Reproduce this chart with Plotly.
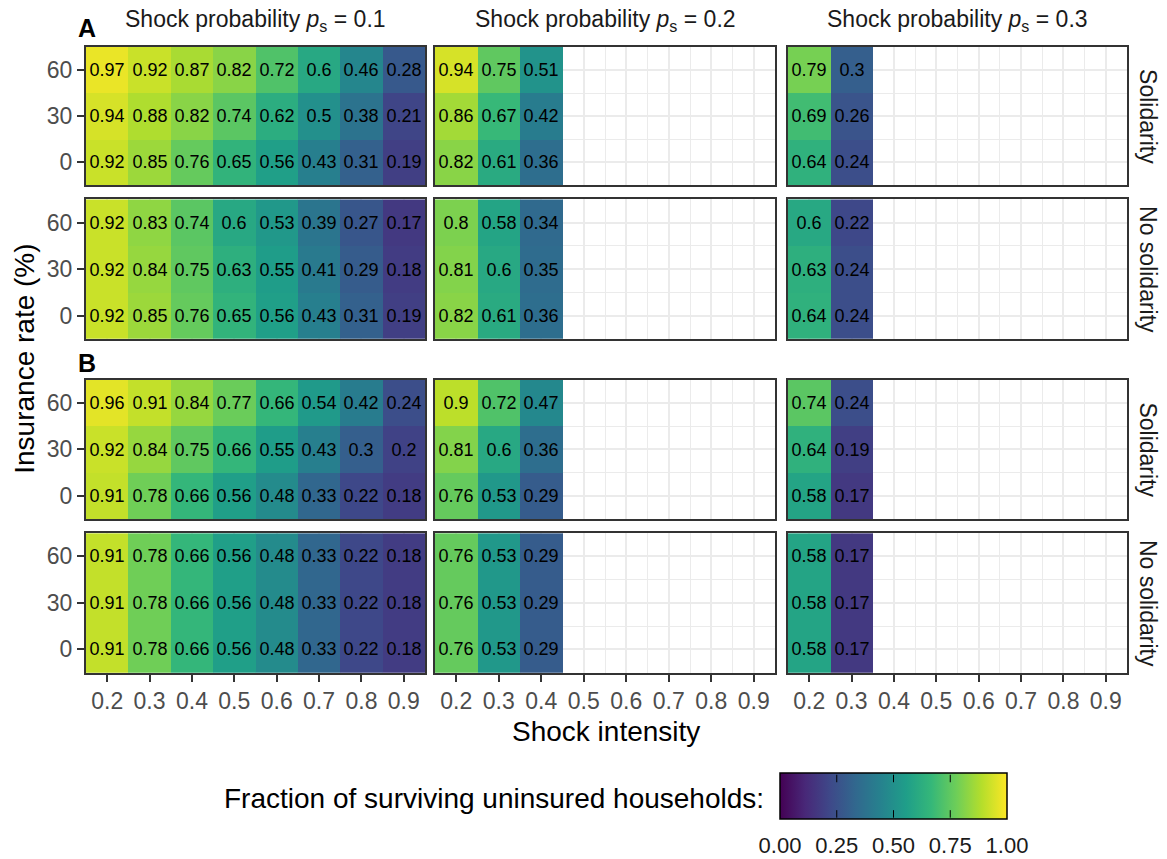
import plotly.graph_objects as go

# ---------------- data ----------------
SHOCK_INTENSITY = [0.2, 0.3, 0.4, 0.5, 0.6, 0.7, 0.8, 0.9]
INSURANCE_RATE = [0, 30, 60]
SHOCK_PROB = [0.1, 0.2, 0.3]
ROW_LABELS = ["Solidarity", "No solidarity", "Solidarity", "No solidarity"]
PANEL_LETTERS = ["A", "B"]
X_TICKS = [0.2, 0.3, 0.4, 0.5, 0.6, 0.7, 0.8, 0.9]
X_TICKTEXT = ["0.2", "0.3", "0.4", "0.5", "0.6", "0.7", "0.8", "0.9"]
Y_TICKS = [0, 30, 60]
Y_TICKTEXT = ["0", "30", "60"]
CB_TICKS = [0, 0.25, 0.5, 0.75, 1.0]
CB_TICKTEXT = ["0.00", "0.25", "0.50", "0.75", "1.00"]

# each list: rows for insurance rate 0, 30, 60
A_SOL_P1 = [[0.92, 0.85, 0.76, 0.65, 0.56, 0.43, 0.31, 0.19],
            [0.94, 0.88, 0.82, 0.74, 0.62, 0.5, 0.38, 0.21],
            [0.97, 0.92, 0.87, 0.82, 0.72, 0.6, 0.46, 0.28]]
A_SOL_P2 = [[0.82, 0.61, 0.36], [0.86, 0.67, 0.42], [0.94, 0.75, 0.51]]
A_SOL_P3 = [[0.64, 0.24], [0.69, 0.26], [0.79, 0.3]]

A_NOS_P1 = [[0.92, 0.85, 0.76, 0.65, 0.56, 0.43, 0.31, 0.19],
            [0.92, 0.84, 0.75, 0.63, 0.55, 0.41, 0.29, 0.18],
            [0.92, 0.83, 0.74, 0.6, 0.53, 0.39, 0.27, 0.17]]
A_NOS_P2 = [[0.82, 0.61, 0.36], [0.81, 0.6, 0.35], [0.8, 0.58, 0.34]]
A_NOS_P3 = [[0.64, 0.24], [0.63, 0.24], [0.6, 0.22]]

B_SOL_P1 = [[0.91, 0.78, 0.66, 0.56, 0.48, 0.33, 0.22, 0.18],
            [0.92, 0.84, 0.75, 0.66, 0.55, 0.43, 0.3, 0.2],
            [0.96, 0.91, 0.84, 0.77, 0.66, 0.54, 0.42, 0.24]]
B_SOL_P2 = [[0.76, 0.53, 0.29], [0.81, 0.6, 0.36], [0.9, 0.72, 0.47]]
B_SOL_P3 = [[0.58, 0.17], [0.64, 0.19], [0.74, 0.24]]

B_NOS_P1 = [[0.91, 0.78, 0.66, 0.56, 0.48, 0.33, 0.22, 0.18],
            [0.91, 0.78, 0.66, 0.56, 0.48, 0.33, 0.22, 0.18],
            [0.91, 0.78, 0.66, 0.56, 0.48, 0.33, 0.22, 0.18]]
B_NOS_P2 = [[0.76, 0.53, 0.29], [0.76, 0.53, 0.29], [0.76, 0.53, 0.29]]
B_NOS_P3 = [[0.58, 0.17], [0.58, 0.17], [0.58, 0.17]]

PANELS = [[A_SOL_P1, A_SOL_P2, A_SOL_P3],
          [A_NOS_P1, A_NOS_P2, A_NOS_P3],
          [B_SOL_P1, B_SOL_P2, B_SOL_P3],
          [B_NOS_P1, B_NOS_P2, B_NOS_P3]]

# ---------------- layout geometry (pixels) ----------------
W, H = 1167, 859
COLS_PX = [(86, 425), (435, 775), (788, 1127)]
ROWS_PX = [(47, 186), (200, 340), (381, 521), (535, 675)]
CB_LEFT, CB_LEN, CB_TOP, CB_THICK = 780, 227, 776, 46
FONT = "Liberation Sans, Arial, Helvetica, sans-serif"


def fx(p):
    return p / W


def fy(p):
    return 1 - p / H


def fmt(v):
    s = f"{v:.2f}".rstrip("0").rstrip(".")
    return s


fig = go.Figure()
layout = dict(
    width=W, height=H,
    margin=dict(l=0, r=0, t=0, b=0),
    paper_bgcolor="white", plot_bgcolor="white",
    font=dict(family=FONT, color="#1a1a1a"),
    showlegend=False,
)

for r in range(4):
    for c in range(3):
        idx = r * 3 + c + 1
        z = PANELS[r][c]
        n = len(z[0])
        xs = SHOCK_INTENSITY[:n]
        txt = [[fmt(v) for v in row] for row in z]
        xa = "x" if idx == 1 else f"x{idx}"
        ya = "y" if idx == 1 else f"y{idx}"
        tr = go.Heatmap(
            x=xs, y=INSURANCE_RATE, z=z, text=txt,
            texttemplate="%{text}",
            textfont=dict(size=18, color="black", family=FONT),
            colorscale="Viridis", zmin=0, zmax=1,
            xaxis=xa, yaxis=ya, hoverinfo="skip",
            showscale=(idx == 1),
        )
        if idx == 1:
            tr.colorbar = dict(
                orientation="h",
                lenmode="pixels", len=CB_LEN,
                thicknessmode="pixels", thickness=CB_THICK,
                x=fx(CB_LEFT + CB_LEN / 2), xanchor="center",
                y=fy(CB_TOP), yanchor="top",
                xpad=0, ypad=0,
                outlinecolor="black", outlinewidth=1.5,
                tickvals=CB_TICKS, ticktext=CB_TICKTEXT,
                ticks="outside", ticklen=7, tickcolor="rgba(0,0,0,0)",
                tickfont=dict(size=22, color="#1a1a1a", family=FONT),
            )
        fig.add_trace(tr)

        xkey = "xaxis" if idx == 1 else f"xaxis{idx}"
        ykey = "yaxis" if idx == 1 else f"yaxis{idx}"
        bottom = (r == 3)
        left = (c == 0)
        layout[xkey] = dict(
            domain=[fx(COLS_PX[c][0]), fx(COLS_PX[c][1])],
            anchor=ya, range=[0.15, 0.95],
            tickmode="array", tickvals=X_TICKS, ticktext=X_TICKTEXT,
            showticklabels=bottom,
            ticks="outside" if bottom else "", ticklen=7, tickwidth=1.5, tickcolor="#333333",
            tickfont=dict(size=23, color="#4d4d4d", family=FONT),
            showgrid=True, gridcolor="#ebebeb", gridwidth=2,
            minor=dict(tickmode="array", tickvals=[0.25, 0.35, 0.45, 0.55, 0.65, 0.75, 0.85],
                       showgrid=True, gridcolor="#ebebeb", gridwidth=1, ticks=""),
            showline=True, linecolor="#333333", linewidth=2, mirror=True,
            zeroline=False, fixedrange=True,
        )
        layout[ykey] = dict(
            domain=[fy(ROWS_PX[r][1]), fy(ROWS_PX[r][0])],
            anchor=xa, range=[-15, 75],
            tickmode="array", tickvals=Y_TICKS, ticktext=Y_TICKTEXT,
            showticklabels=left,
            ticks="outside" if left else "", ticklen=7, tickwidth=1.5, tickcolor="#333333",
            tickfont=dict(size=23, color="#4d4d4d", family=FONT),
            showgrid=True, gridcolor="#ebebeb", gridwidth=2,
            minor=dict(tickmode="array", tickvals=[15, 45],
                       showgrid=True, gridcolor="#ebebeb", gridwidth=1, ticks=""),
            showline=True, linecolor="#333333", linewidth=2, mirror=True,
            zeroline=False, fixedrange=True,
        )

ann = []
# inner tick marks of the colour bar (top and bottom edge, like ggplot),
# drawn as arrow-only annotations so they sit above the colour bar
for t in CB_TICKS[1:-1]:
    xp = fx(CB_LEFT + t * CB_LEN)
    for yp, off in [(CB_TOP + 9, -9), (CB_TOP + CB_THICK - 9, 9)]:
        ann.append(dict(text="", x=xp, y=fy(yp), xref="paper", yref="paper",
                        showarrow=True, arrowhead=0, arrowwidth=1, arrowcolor="black",
                        ax=0, ay=off, standoff=0, startstandoff=0))
# column titles
for c, p in enumerate(SHOCK_PROB):
    ann.append(dict(
        text=f"Shock probability <i>p</i><sub>s</sub> = {p}",
        x=fx((COLS_PX[c][0] + COLS_PX[c][1]) / 2), y=fy(21),
        xref="paper", yref="paper", xanchor="center", yanchor="middle",
        showarrow=False, font=dict(size=23, color="#1a1a1a", family=FONT)))
# row strips
for r, lab in enumerate(ROW_LABELS):
    ann.append(dict(
        text=lab, textangle=90,
        x=fx(1148), y=fy((ROWS_PX[r][0] + ROWS_PX[r][1]) / 2),
        xref="paper", yref="paper", xanchor="center", yanchor="middle",
        showarrow=False, font=dict(size=23, color="#1a1a1a", family=FONT)))
# panel letters
for i, (letter, ypx) in enumerate(zip(PANEL_LETTERS, [28, 364])):
    ann.append(dict(
        text=f"<b>{letter}</b>", x=fx(87), y=fy(ypx),
        xref="paper", yref="paper", xanchor="center", yanchor="middle",
        showarrow=False, font=dict(size=25, color="black", family=FONT)))
# axis titles
ann.append(dict(text="Insurance rate (%)", textangle=-90, x=fx(25), y=fy(360),
                xref="paper", yref="paper", xanchor="center", yanchor="middle",
                showarrow=False, font=dict(size=28, color="black", family=FONT)))
ann.append(dict(text="Shock intensity", x=fx(606), y=fy(734),
                xref="paper", yref="paper", xanchor="center", yanchor="middle",
                showarrow=False, font=dict(size=28, color="black", family=FONT)))
# colorbar title
ann.append(dict(text="Fraction of surviving uninsured households:", x=fx(766), y=fy(801),
                xref="paper", yref="paper", xanchor="right", yanchor="middle",
                showarrow=False, font=dict(size=28, color="black", family=FONT)))

layout["annotations"] = ann
fig.update_layout(**layout)
fig.write_html(
    "out.html",
    config={"displayModeBar": False},
    post_script="document.body.style.margin='0px';document.body.style.overflow='hidden';",
)
